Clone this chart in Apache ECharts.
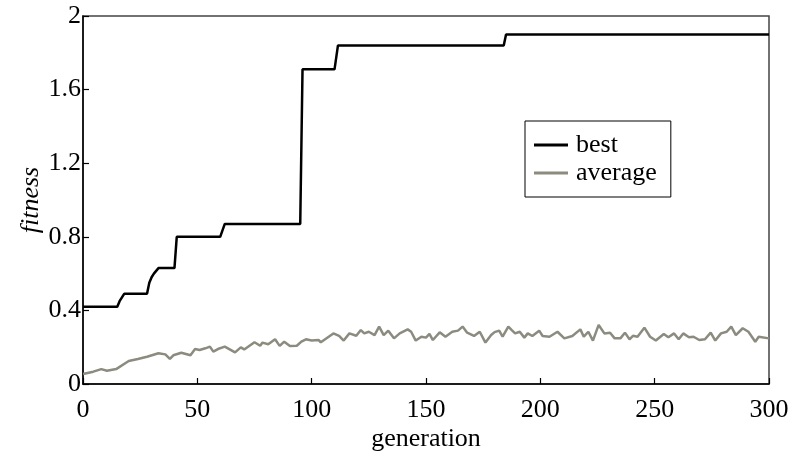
<!DOCTYPE html>
<html><head><meta charset="utf-8">
<script src="https://cdn.jsdelivr.net/npm/echarts@6/dist/echarts.min.js"></script>
<style>html,body{margin:0;padding:0;background:#fff}#c{width:800px;height:461px}</style>
</head><body><div id="c"></div>
<script>
const xTicks = [0, 50, 100, 150, 200, 250, 300];
const yTicks = [0, 0.4, 0.8, 1.2, 1.6, 2];
const bestGen = [0, 15, 16, 18, 28, 29, 30, 31, 33, 40, 41, 60, 62, 95, 96, 110, 111.5, 184, 185, 300];
const bestFit = [0.42, 0.42, 0.45, 0.49, 0.49, 0.55, 0.58, 0.60, 0.63, 0.63, 0.80, 0.80, 0.87, 0.87, 1.71, 1.71, 1.84, 1.84, 1.90, 1.90];
const avgGen = [0,4.5,8,10.5,14.5,20,24,28,33,36,38,39.5,43,47,49,51,53.5,55.5,57,59,62,66.5,69,70.5,75,77.5,78.5,81,84,86,88,90.5,93.5,95.5,97.5,100,103,104,109.5,112,114,116.5,119.5,121.5,123,125,127.5,129.5,131.5,133.5,136,138.5,142,143.5,145.5,148,150,151.5,153,156,158.5,161.5,164,166,168,171,173.5,176,178.5,180,182,183.5,186,187.5,189,191,193,194.5,196.5,199.5,201,204,207.5,210.5,214,217.5,219,221,223,225.5,228,230.5,232.5,235,237,239,240.5,242.5,245.5,248,250.5,254,256,258.5,260.5,262.5,265,267,269.5,272,274.5,276.5,279,281.5,283.5,285.5,288.5,291,294,295.5,300];
const avgFit = [0.054,0.067,0.081,0.072,0.081,0.125,0.136,0.148,0.167,0.161,0.136,0.156,0.170,0.156,0.190,0.185,0.194,0.203,0.176,0.190,0.203,0.172,0.199,0.188,0.227,0.208,0.225,0.216,0.243,0.207,0.230,0.207,0.208,0.230,0.243,0.236,0.239,0.227,0.275,0.261,0.236,0.275,0.262,0.293,0.275,0.284,0.266,0.312,0.266,0.290,0.248,0.275,0.297,0.284,0.236,0.257,0.252,0.272,0.239,0.281,0.257,0.284,0.290,0.312,0.279,0.261,0.284,0.225,0.266,0.282,0.290,0.257,0.312,0.293,0.275,0.284,0.252,0.275,0.261,0.290,0.261,0.257,0.284,0.248,0.261,0.297,0.257,0.284,0.236,0.321,0.275,0.279,0.248,0.248,0.279,0.243,0.262,0.257,0.306,0.257,0.236,0.272,0.254,0.275,0.243,0.275,0.254,0.257,0.239,0.243,0.279,0.236,0.275,0.284,0.312,0.266,0.303,0.284,0.230,0.257,0.248];

const FONT = '"Liberation Serif", "DejaVu Serif", serif';
const chart = echarts.init(document.getElementById('c'), null, {renderer: 'canvas'});
chart.setOption({
  animation: false,
  backgroundColor: '#fff',
  grid: {left: 83, right: 31, top: 16, bottom: 77, show: true, borderColor: '#444', borderWidth: 1.5, backgroundColor: 'transparent'},
  legend: {
    orient: 'vertical', left: 525, top: 121,
    data: ['best', 'average'],
    icon: 'rect', itemWidth: 34, itemHeight: 3, itemGap: 2,
    borderColor: '#000', borderWidth: 1, borderRadius: 0,
    padding: [11, 14, 11, 9],
    textStyle: {fontFamily: FONT, fontSize: 26, color: '#000', lineHeight: 24, padding: [0, 0, 0, 3]}
  },
  xAxis: {
    type: 'value', min: 0, max: 300, interval: 50,
    name: 'generation', nameLocation: 'middle', nameGap: 42, nameMoveOverlap: false,
    nameTextStyle: {fontFamily: FONT, fontSize: 26, color: '#000'},
    axisLine: {show: true, lineStyle: {color: '#000', width: 1.5}},
    axisTick: {show: true, inside: true, length: 6, lineStyle: {color: '#000', width: 1.2}},
    axisLabel: {fontFamily: FONT, fontSize: 26, color: '#000', margin: 13,
      formatter: v => xTicks.includes(v) ? String(v) : ''},
    splitLine: {show: false}
  },
  yAxis: {
    type: 'value', min: 0, max: 2, interval: 0.4,
    name: 'fitness', nameLocation: 'middle', nameGap: 39, nameMoveOverlap: false,
    nameTextStyle: {fontFamily: FONT, fontSize: 26, color: '#000', fontStyle: 'italic'},
    axisLine: {show: true, lineStyle: {color: '#000', width: 1.5}},
    axisTick: {show: true, inside: true, length: 6, lineStyle: {color: '#000', width: 1.2}},
    axisLabel: {fontFamily: FONT, fontSize: 26, color: '#000', margin: 2,
      formatter: v => { const t = yTicks.find(k => Math.abs(k - v) < 1e-9); return t === undefined ? '' : String(t); }},
    splitLine: {show: false}
  },
  series: [
    {name: 'best', type: 'line', showSymbol: false, symbol: 'none', color: '#000',
      lineStyle: {color: '#000', width: 2.5}, data: bestGen.map((g, i) => [g, bestFit[i]])},
    {name: 'average', type: 'line', showSymbol: false, symbol: 'none', color: '#8b8b7f',
      lineStyle: {color: '#8b8b7f', width: 2.5}, data: avgGen.map((g, i) => [g, avgFit[i]])}
  ]
});
</script></body></html>
